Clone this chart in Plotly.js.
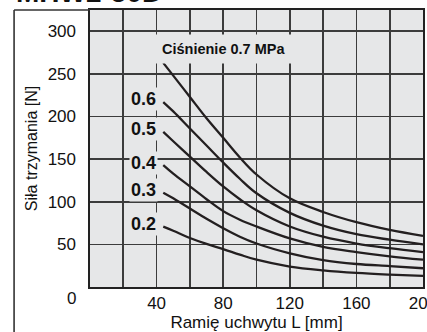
<!DOCTYPE html>
<html>
<head>
<meta charset="utf-8">
<script src="https://cdn.plot.ly/plotly-3.0.1.min.js"></script>
<style>html,body{margin:0;padding:0;background:#fff;}#chart{width:427px;height:332px;}</style>
</head>
<body>
<div id="chart"></div>
<script>
// Data
const armLength = [44, 50, 60, 70, 80, 90, 100, 120, 140, 160, 180, 200];
const pressures = ["0.7", "0.6", "0.5", "0.4", "0.3", "0.2"];
const force07 = [263, 248, 223, 198, 175, 152, 132, 104, 88, 76, 67, 60];
const force06 = [217, 206, 186, 166, 146, 127, 110, 87, 72, 62, 55.5, 50];
const force05 = [182, 171, 153, 135, 118, 103, 90, 71, 59, 51, 45.5, 41];
const force04 = [143, 133, 118, 103, 89, 79, 71, 57, 47, 41, 36, 32];
const force03 = [110.6, 104, 92, 80, 69, 59, 51, 39.5, 31.5, 27, 24.5, 22];
const force02 = [70.8, 66, 57.5, 50.5, 44.5, 38, 32, 24, 19.5, 16.5, 14.5, 13];
const xGridVals = [20, 40, 60, 80, 100, 120, 140, 160, 180, 200];
const xTickVals = [40, 80, 120, 160, 200];
const yTickVals = [50, 100, 150, 200, 250, 300];

const series = [force07, force06, force05, force04, force03, force02];
const FONT = '"Liberation Sans", Arial, Helvetica, sans-serif';
const BG = '#e6e7e8';
const GRID = '#3c3c3c';
const X_RANGE = [0, 200];
const Y_RANGE = [0, 325];

const traces = series.map((ys, i) => ({
  x: armLength, y: ys, type: 'scatter', mode: 'lines',
  name: pressures[i],
  line: {color: '#231f20', width: 2.3, shape: 'spline', smoothing: 1},
  hoverinfo: 'skip', showlegend: false
}));

const annotations = [];
annotations.push({
  x: 80.2, y: 279, xref: 'x', yref: 'y',
  text: '<b>Ciśnienie ' + pressures[0] + ' MPa</b>',
  showarrow: false, xanchor: 'center', yanchor: 'middle',
  font: {family: FONT, size: 14.5, color: '#111'},
  bgcolor: BG, borderpad: 6
});
for (let i = 1; i < series.length; i++) {
  annotations.push({
    x: 41, y: series[i][0] + 3, xref: 'x', yref: 'y',
    text: '<b>' + pressures[i] + '</b>',
    showarrow: false, xanchor: 'right', yanchor: 'middle',
    font: {family: FONT, size: 18, color: '#111'},
    bgcolor: BG, borderpad: 1
  });
}
annotations.push({
  x: -0.035, y: -0.04, xref: 'paper', yref: 'paper',
  text: '0', showarrow: false, xanchor: 'right', yanchor: 'middle',
  font: {family: FONT, size: 17, color: '#111'}
});
annotations.push({
  x: -0.228, y: 1.0, xref: 'paper', yref: 'paper',
  text: '<b>MHW2-50D</b>', showarrow: false, xanchor: 'left', yanchor: 'bottom',
  font: {family: FONT, size: 28, color: '#111'}
});

const shapes = [
  {type: 'line', xref: 'paper', yref: 'paper', x0: -0.228, x1: -0.228, y0: 1, y1: -0.2, line: {color: '#333', width: 1.6}},
  {type: 'line', xref: 'paper', yref: 'paper', x0: -0.228, x1: 0, y0: 1, y1: 1, line: {color: '#333', width: 1.6}}
];

const layout = {
  width: 427, height: 332,
  margin: {l: 90, r: 4, t: 10, b: 45, pad: 0},
  paper_bgcolor: '#ffffff', plot_bgcolor: BG,
  font: {family: FONT, size: 17, color: '#111'},
  showlegend: false,
  xaxis: {
    range: X_RANGE, tickmode: 'array', tickvals: xTickVals,
    showgrid: true, gridcolor: GRID, gridwidth: 1.7,
    minor: {tickvals: xGridVals, showgrid: true, gridcolor: GRID, gridwidth: 1.7, ticks: ''},
    ticklabeloverflow: 'allow',
    showline: true, linecolor: '#222', linewidth: 1.6, mirror: true,
    zeroline: false, ticks: '', tickfont: {family: FONT, size: 17, color: '#111'},
    title: {text: 'Ramię uchwytu L [mm]', font: {family: FONT, size: 17, color: '#111'}, standoff: 4}
  },
  yaxis: {
    range: Y_RANGE, tickmode: 'array', tickvals: yTickVals,
    showgrid: true, gridcolor: GRID, gridwidth: 1.7,
    ticklabeloverflow: 'allow',
    showline: true, linecolor: '#222', linewidth: 1.6, mirror: true,
    zeroline: false, ticks: 'outside', ticklen: 9, tickcolor: 'rgba(0,0,0,0)',
    tickfont: {family: FONT, size: 17, color: '#111'},
    title: {text: 'Siła trzymania [N]', font: {family: FONT, size: 16, color: '#111'}, standoff: 6}
  },
  annotations: annotations,
  shapes: shapes
};

Plotly.newPlot('chart', traces, layout, {displayModeBar: false, staticPlot: true});
</script>
</body>
</html>
